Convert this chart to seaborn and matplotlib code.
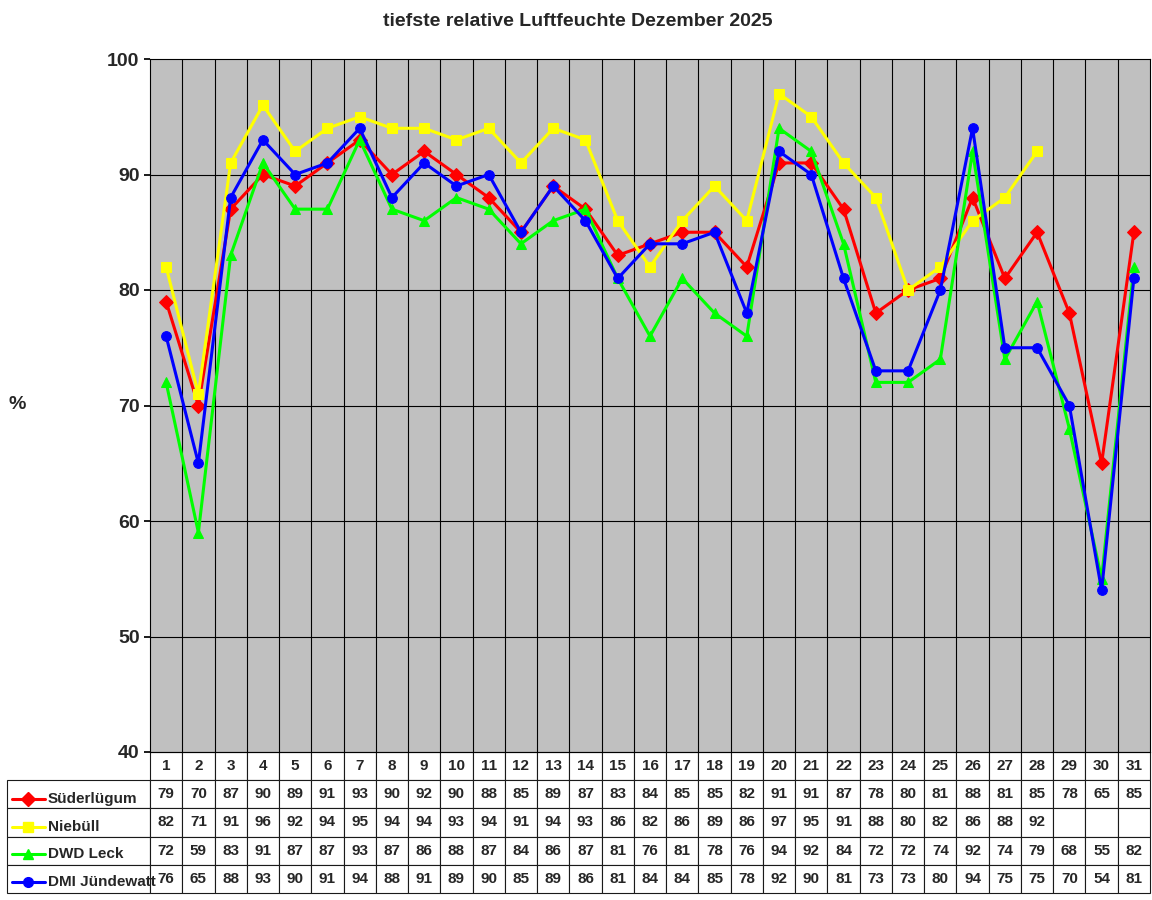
import numpy as np
import pandas as pd
import matplotlib
matplotlib.use("Agg")
import matplotlib.pyplot as plt
import seaborn as sns
from matplotlib.lines import Line2D

days = list(range(1, 32))
suederluegum = [79,70,87,90,89,91,93,90,92,90,88,85,89,87,83,84,85,85,82,91,91,87,78,80,81,88,81,85,78,65,85]
niebuell = [82,71,91,96,92,94,95,94,94,93,94,91,94,93,86,82,86,89,86,97,95,91,88,80,82,86,88,92,None,None,None]
dwd_leck = [72,59,83,91,87,87,93,87,86,88,87,84,86,87,81,76,81,78,76,94,92,84,72,72,74,92,74,79,68,55,82]
dmi = [76,65,88,93,90,91,94,88,91,89,90,85,89,86,81,84,84,85,78,92,90,81,73,73,80,94,75,75,70,54,81]
names = ["Süderlügum", "Niebüll", "DWD Leck", "DMI Jündewatt"]
colors = ["#FF0000", "#FFFF00", "#00FF00", "#0000FF"]
markers = ["D", "s", "^", "o"]
series = [suederluegum, niebuell, dwd_leck, dmi]

sns.set_theme(style="white")
plt.rcParams['font.family'] = ['Liberation Sans', 'DejaVu Sans']
fig = plt.figure(figsize=(11.52, 9), dpi=100)
ax = fig.add_axes([150/1152, 1-752/900, 1000/1152, 693/900])
ax.set_facecolor("#C0C0C0")

for name, vals, c, m in zip(names, series, colors, markers):
    df = pd.DataFrame({"day": days, "v": [np.nan if v is None else v for v in vals]}).dropna()
    sns.lineplot(data=df, x="day", y="v", ax=ax, color=c, marker=m, markersize=7,
                 markeredgecolor=c, linewidth=2.2, legend=False)

ax.set_xlim(0.5, 31.5)
ax.set_ylim(40, 100)
ax.set_yticks(range(40, 101, 10))
ax.set_xticks([])
for x in np.arange(1.5, 31.5, 1):
    ax.axvline(x, color="black", lw=0.8, zorder=0)
for y in range(50, 100, 10):
    ax.axhline(y, color="black", lw=0.8, zorder=0)
for s in ax.spines.values():
    s.set_color("black"); s.set_linewidth(0.8)
ax.tick_params(axis="y", labelsize=14, length=4, left=True, color="black")
for t in ax.get_yticklabels():
    t.set_fontweight("bold")
ax.set_xlabel("")
ax.set_ylabel("")
fig.text(17/1152, 1-405/900, "%", ha="center", va="center", fontsize=14, fontweight="bold")
fig.text(578/1152, 1-22/900, "tiefste relative Luftfeuchte Dezember 2025", ha="center", va="center",
         fontsize=14, fontweight="bold")

# table
cell = [[""] + [str(d) for d in days]]
for name, vals in zip(names, series):
    cell.append([""] + ["" if v is None else str(v) for v in vals])
lw = 143/1000
tbl = ax.table(cellText=cell, colWidths=[lw] + [1/31]*31,
               bbox=[-lw, -(893-752)/693, 1+lw, (893-752)/693], cellLoc="center")
tbl.auto_set_font_size(False)
for (r, c), cl in tbl.get_celld().items():
    cl.set_linewidth(0.8)
    cl.get_text().set_fontsize(11)
    cl.get_text().set_fontweight("bold")
    if r == 0 and c == 0:
        cl.visible_edges = ""
for i, (name, c, m) in enumerate(zip(names, colors, markers)):
    yf = 1 - (799 + i*27.7)/900
    fig.add_artist(Line2D([12/1152, 45/1152], [yf, yf], color=c, lw=2.2))
    fig.add_artist(Line2D([28/1152], [yf], color=c, marker=m, markersize=7, markeredgecolor=c))
    fig.text(48/1152, yf, name, ha="left", va="center", fontsize=11, fontweight="bold")

fig.savefig("out.png", dpi=100)
